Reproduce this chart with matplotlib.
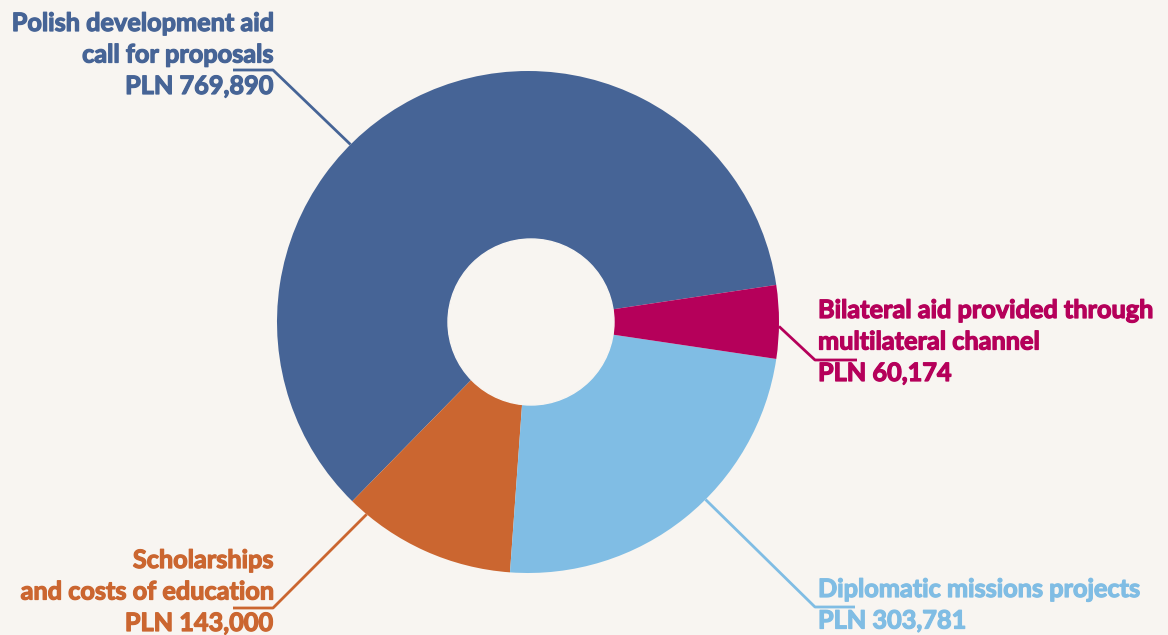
import numpy as np
import matplotlib.pyplot as plt
import matplotlib.patheffects as pe

# data
labels = ["Polish development aid\ncall for proposals",
          "Scholarships\nand costs of education",
          "Diplomatic missions projects",
          "Bilateral aid provided through\nmultilateral channel"]
values = [769890, 143000, 303781, 60174]
colors = ["#466496", "#cb6630", "#80bde4", "#b5005a"]

BG = "#f8f5f1"
W, H = 1168, 635
cx, cy = 528, H - 322     # pie centre in pixels (y up)
R = 251
hole = 83

plt.rcParams["font.family"] = ["Lato", "DejaVu Sans"]

fig = plt.figure(figsize=(W / 100, H / 100), dpi=100, facecolor=BG)
ax = fig.add_axes([0, 0, 1, 1])
ax.set_facecolor(BG)

ax.pie(values, colors=colors, startangle=8.5, counterclock=True,
       center=(cx, cy), radius=R, wedgeprops=dict(linewidth=0))
ax.add_patch(plt.Circle((cx + 3, cy), hole, color=BG, zorder=3))

ax.set_xlim(0, W)
ax.set_ylim(0, H)
ax.set_aspect("equal")
ax.axis("off")

# leader lines: (edge angle, elbow, end of horizontal), text pos, alignment
leaders = [
    (135, (273, 70), (233, 70), (273, 31), "right"),
    (-130, (273, 608), (233, 608), (273, 568), "right"),
    (-45, (815, 607), (855, 607), (818, 597), "left"),
    (-1, (815, 360), (857, 360), (818, 318), "left"),
]
lh = 31.5  # line height in px

for lab, val, col, (ang, elbow, end, tpos, ha) in zip(labels, values, colors, leaders):
    a = np.deg2rad(ang)
    ex, ey = cx + R * np.cos(a), cy + R * np.sin(a)
    xs = [ex, elbow[0], end[0]]
    ys = [ey, H - elbow[1], H - end[1]]
    ax.plot(xs, ys, color=col, lw=2, solid_capstyle="butt", zorder=4)
    lines = lab.split("\n") + [f"PLN {val:,}"]
    for i, ln in enumerate(lines):
        # thin stroke in the same colour to get a heavier weight
        ax.text(tpos[0], H - tpos[1] - i * lh, ln, color=col, ha=ha,
                va="baseline", fontsize=18.2, fontweight="bold",
                path_effects=[pe.withStroke(linewidth=0.9, foreground=col)])

fig.savefig("out.png", dpi=100, facecolor=BG)
